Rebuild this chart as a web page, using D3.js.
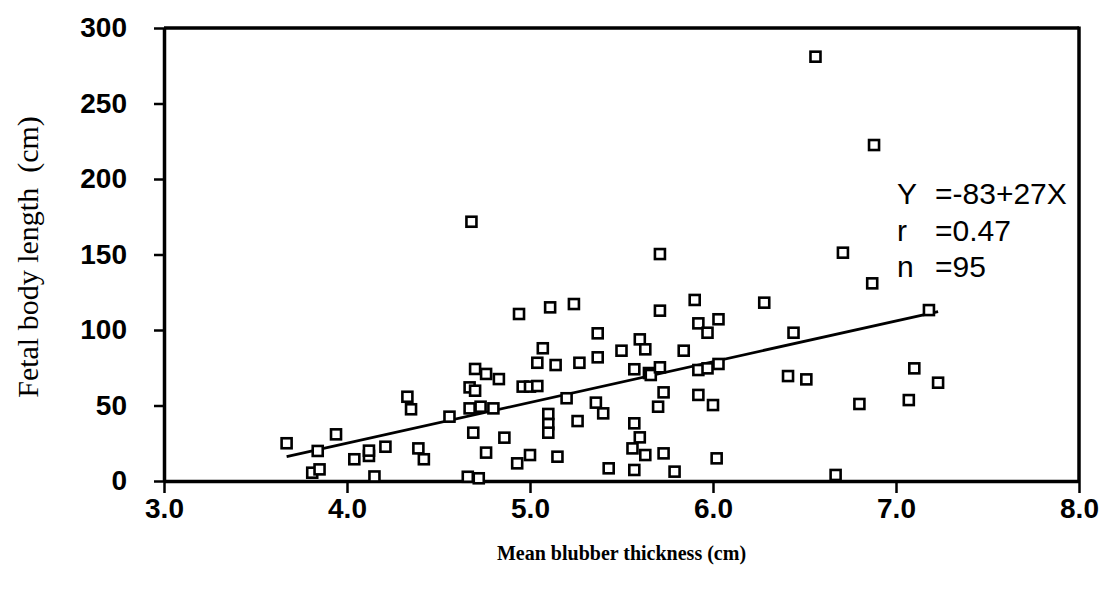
<!DOCTYPE html>
<html><head><meta charset="utf-8">
<script src="https://cdn.jsdelivr.net/npm/d3@7"></script>
<style>body{margin:0;background:#fff}</style>
</head><body>
<svg id="c" width="1106" height="591"></svg>
<script>
const blubber = [3.67,3.81,3.84,3.85,3.94,4.04,4.12,4.12,4.15,4.21,
 4.33,4.35,4.39,4.42,4.56,4.66,4.67,4.67,4.68,4.69,
 4.70,4.70,4.72,4.73,4.76,4.76,4.80,4.83,4.86,4.93,
 4.94,4.96,5.00,5.00,5.04,5.04,5.07,5.10,5.10,5.10,
 5.11,5.14,5.15,5.20,5.24,5.26,5.27,5.36,5.37,5.37,
 5.40,5.43,5.50,5.56,5.57,5.57,5.57,5.60,5.60,5.63,
 5.63,5.65,5.66,5.70,5.71,5.71,5.71,5.73,5.73,5.79,
 5.84,5.90,5.92,5.92,5.92,5.97,5.97,6.00,6.02,6.03,
 6.03,6.28,6.41,6.44,6.51,6.56,6.67,6.71,6.80,6.87,
 6.88,7.07,7.10,7.18,7.23];
const fetalLength = [25.0,5.5,19.9,7.7,30.9,14.4,16.6,20.1,3.0,22.7,
 55.8,47.5,21.6,14.4,42.6,2.8,48.1,62.0,171.7,32.0,
 74.2,59.8,1.8,49.2,70.9,18.8,48.1,67.5,28.7,11.7,
 110.6,62.5,62.5,17.2,78.3,62.9,87.9,44.4,37.7,32.0,
 115.0,76.8,16.1,54.8,117.2,39.7,78.3,51.9,97.8,81.9,
 44.8,8.4,86.3,21.6,7.3,74.0,38.2,93.8,28.9,87.2,
 17.2,71.5,70.2,49.2,75.3,112.8,150.3,58.7,18.3,6.2,
 86.3,119.9,104.4,73.5,57.0,98.2,74.6,50.3,15.0,107.1,
 77.5,118.1,69.5,98.2,67.3,281.0,4.0,151.2,51.0,130.9,
 222.5,53.6,74.6,113.2,65.1];
const xTicks = [3,4,5,6,7,8];
const yTicks = [0,50,100,150,200,250,300];
const fitIntercept = -83, fitSlope = 27;
const statNames = ["Y","r","n"];
const statValues = ["=-83+27X","=0.47","=95"];
const xTitle = "Mean blubber thickness (cm)";
const yTitle = "Fetal body length  (cm)";

const svg = d3.select("#c");
const x = d3.scaleLinear().domain([3,8]).range([164,1079]);
const y = d3.scaleLinear().domain([0,300]).range([481,28]);

// axes
const gx = svg.append("g").attr("transform",`translate(0,${y(0)})`)
  .call(d3.axisBottom(x).tickValues(xTicks).tickFormat(d3.format(".1f")).tickSize(12).tickSizeOuter(0).tickPadding(5));
const gy = svg.append("g").attr("transform",`translate(${x(3)},0)`)
  .call(d3.axisLeft(y).tickValues(yTicks).tickSize(10).tickSizeOuter(0).tickPadding(27));
[gx,gy].forEach(g=>{
  g.select(".domain").attr("stroke","#000").attr("stroke-width",3.5);
  g.selectAll(".tick line").attr("stroke","#000").attr("stroke-width",2.5);
  g.selectAll(".tick text").attr("fill","#000")
   .style("font-family","'Liberation Sans', Arial, sans-serif")
   .style("font-weight","bold").style("font-size","28px");
});
// frame top & right
svg.append("line").attr("x1",x(3)).attr("x2",x(8)).attr("y1",y(300)).attr("y2",y(300))
  .attr("stroke","#000").attr("stroke-width",3.5);
svg.append("line").attr("x1",x(8)).attr("x2",x(8)).attr("y1",y(300)-1.5).attr("y2",y(0))
  .attr("stroke","#000").attr("stroke-width",3.5);

// regression line
const ext = d3.extent(blubber);
svg.append("path")
  .datum(ext.map(v=>[v, fitIntercept + fitSlope*v]))
  .attr("d", d3.line().x(d=>x(d[0])).y(d=>y(d[1])))
  .attr("fill","none").attr("stroke","#000").attr("stroke-width",2.8);

// points
const pts = blubber.map((b,i)=>({b, f: fetalLength[i]}));
const s = 10;
svg.append("g").selectAll("rect").data(pts).join("rect")
  .attr("x", d=>x(d.b)-s/2).attr("y", d=>y(d.f)-s/2)
  .attr("width", s).attr("height", s)
  .attr("fill","#fff").attr("stroke","#000").attr("stroke-width",2.6);

// stats
const st = svg.append("g").attr("fill","#000").style("font-family","'Liberation Sans', Arial, sans-serif").style("font-size","30px");
statNames.forEach((n,i)=>{
  st.append("text").attr("x",897).attr("y",204+i*36.5).text(n);
  st.append("text").attr("x",935).attr("y",204+i*36.5).text(statValues[i]);
});

// titles
svg.append("text").attr("x",(x(3)+x(8))/2).attr("y",560).attr("text-anchor","middle").attr("fill","#000")
  .style("font-family","'Liberation Serif', 'Times New Roman', serif").style("font-weight","bold").style("font-size","20px")
  .text(xTitle);
svg.append("text").attr("transform","translate(38,257) rotate(-90)").attr("text-anchor","middle").attr("fill","#000")
  .style("white-space","pre")
  .style("font-family","'Liberation Serif', 'Times New Roman', serif").style("font-size","30px")
  .text(yTitle);
</script>
</body></html>
